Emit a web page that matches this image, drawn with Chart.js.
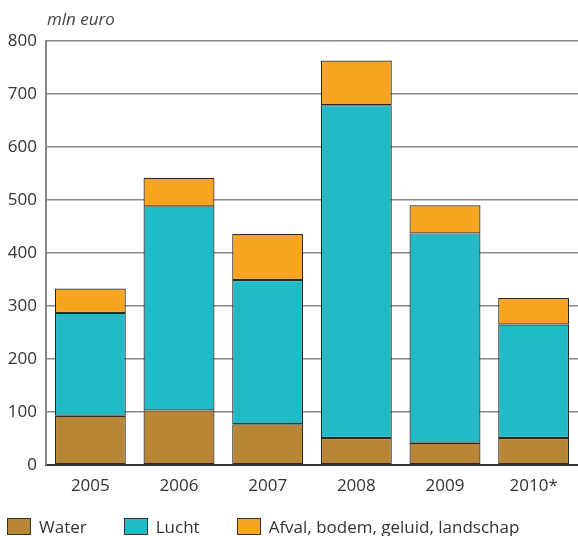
<!DOCTYPE html>
<html>
<head>
<meta charset="utf-8">
<script src="https://cdn.jsdelivr.net/npm/chart.js@4"></script>
<style>
  body { margin:0; background:#fff; }
  #wrap { position:relative; width:578px; height:536px; }
  #legend { position:absolute; left:7px; top:515px; font-family:'Open Sans',sans-serif; font-size:17px; color:#333; display:flex; }
  #legend .item { display:flex; align-items:center; margin-right:37px; }
  #legend .box { width:22px; height:15px; border:1px solid #333; margin-right:8px; }
</style>
</head>
<body>
<div id="wrap">
  <canvas id="chart" width="578" height="536"></canvas>
  <div id="legend"></div>
</div>
<script>
// data
const years = ['2005','2006','2007','2008','2009','2010*'];
const water = [93, 103, 77, 51, 42, 51];
const lucht = [194, 385, 272, 628, 395, 214];
const afval = [46, 54, 87, 84, 53, 50];
const yTicks = [0,100,200,300,400,500,600,700,800];

const seriesNames = ['Water','Lucht','Afval, bodem, geluid, landschap'];
const seriesColors = ['#b88634','#21bbc7','#f7a51e'];

const ctx = document.getElementById('chart').getContext('2d');

const unitLabel = {
  id:'unitLabel',
  afterDraw(chart){
    const c = chart.ctx;
    c.save();
    c.font = 'italic 17px "Open Sans", sans-serif';
    c.fillStyle = '#444';
    c.textBaseline = 'middle';
    c.fillText('mln euro', chart.chartArea.left + 1, 20);
    c.restore();
  }
};

const mk = (i, data) => ({
  label: seriesNames[i], data: data, backgroundColor: seriesColors[i],
  borderColor:'#2a2a2a', borderWidth:1.2, borderSkipped:false,
  barPercentage:0.8, categoryPercentage:1
});

new Chart(ctx, {
  type:'bar',
  data:{ labels:years, datasets:[mk(0,water), mk(1,lucht), mk(2,afval)] },
  options:{
    responsive:false, animation:false,
    layout:{ padding:{ top:41, right:0, left:0, bottom:0 } },
    plugins:{ legend:{display:false}, tooltip:{enabled:false} },
    scales:{
      x:{
        stacked:true,
        grid:{ display:false, drawTicks:false },
        border:{ color:'#333', width:2 },
        ticks:{ color:'#333', font:{ family:'Open Sans', size:17 }, padding:11 },
        afterFit(s){ s.height = 71; }
      },
      y:{
        stacked:true, min:0, max:800,
        afterBuildTicks(s){ s.ticks = yTicks.map(v => ({value:v})); },
        grid:{ color:'#888', lineWidth:1.5, drawTicks:false },
        border:{ color:'#888', width:2 },
        ticks:{ color:'#333', font:{ family:'Open Sans', size:17 }, padding:9 },
        afterFit(s){ s.width = 46; }
      }
    }
  },
  plugins:[unitLabel]
});

const lg = document.getElementById('legend');
seriesNames.forEach((n,i) => {
  const it = document.createElement('div');
  it.className = 'item';
  it.innerHTML = '<span class="box" style="background:' + seriesColors[i] + '"></span>' + n;
  lg.appendChild(it);
});
</script>
</body>
</html>
